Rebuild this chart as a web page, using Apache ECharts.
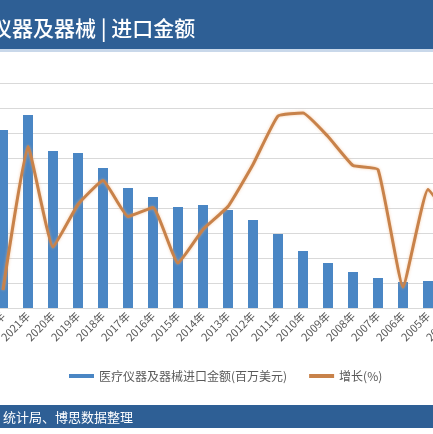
<!DOCTYPE html>
<html>
<head>
<meta charset="utf-8">
<script src="https://cdn.jsdelivr.net/npm/echarts@6/dist/echarts.min.js"></script>
<style>
  html, body { margin: 0; padding: 0; overflow: hidden; background: #fff; }
  #main { width: 433px; height: 434px; }
</style>
</head>
<body>
<div id="main"></div>
<script>
// years run newest -> oldest, like the source chart
const years = ["2022年", "2021年", "2020年", "2019年", "2018年", "2017年", "2016年", "2015年", "2014年",
  "2013年", "2012年", "2011年", "2010年", "2009年", "2008年", "2007年", "2006年", "2005年", "2004年"];
// import value, million USD
const importValue = [28480, 30880, 25120, 24800, 22400, 19200, 17760, 16160, 16480,
  15680, 14080, 11840, 9120, 7200, 5760, 4800, 4160, 4320, 3600];
// growth, %
const growth = [-6.4, 22.3, 2.2, 10.7, 15.5, 8.3, 10.1, -1.0, 5.7,
  10.3, 18.7, 28.4, 29.0, 24.3, 18.5, 17.7, -5.8, 13.7, 7.0];

const barName = "医疗仪器及器械进口金额(百万美元)";
const lineName = "增长(%)";
const titleText = "医疗仪器及器械 | 进口金额";
const footText = "统计局、博思数据整理";

const chart = echarts.init(document.getElementById("main"));

const option = {
  animation: false,
  textStyle: { fontFamily: "'Noto Sans CJK SC', 'Noto Sans', sans-serif" },
  graphic: [
    {
      type: "rect",
      shape: { x: 0, y: 0, width: 433, height: 49 },
      style: { fill: "#2e5f95" },
    },
    {
      type: "rect",
      shape: { x: 0, y: 49, width: 433, height: 3 },
      style: { fill: "#c9d8ea" },
    },
    {
      type: "text",
      x: -51,
      y: 28,
      style: {
        text: titleText,
        fill: "#fff",
        font: "500 21px 'Noto Sans CJK SC'",
        textVerticalAlign: "middle",
      },
    },
    {
      type: "rect",
      shape: { x: 0, y: 405, width: 433, height: 23 },
      style: { fill: "#2e5f95" },
    },
    {
      type: "text",
      x: 3,
      y: 417,
      style: {
        text: footText,
        fill: "#fff",
        font: "13px 'Noto Sans CJK SC'",
        textVerticalAlign: "middle",
      },
    },
  ],
  legend: {
    left: 64,
    top: 365,
    itemWidth: 25,
    itemHeight: 4,
    itemGap: 22,
    textStyle: { fontSize: 12, color: "#595959" },
    data: [
      { name: barName, icon: "rect" },
      { name: lineName, icon: "rect" },
    ],
  },
  grid: {
    left: -9.5,
    right: -32.5,
    top: 83,
    bottom: 126,
    outerBoundsMode: "none",
  },
  xAxis: {
    type: "category",
    data: years,
    axisLine: { lineStyle: { color: "#d9d9d9" } },
    axisTick: { length: 4, lineStyle: { color: "#d9d9d9" } },
    axisLabel: {
      rotate: 45,
      fontSize: 11,
      color: "#595959",
      interval: 0,
      margin: 6,
    },
  },
  yAxis: [
    {
      type: "value",
      min: 0,
      max: 36000,
      interval: 4000,
      axisLabel: { show: false },
      axisLine: { show: false },
      axisTick: { show: false },
      splitLine: { lineStyle: { color: "#d9d9d9" } },
    },
    {
      type: "value",
      min: -10,
      max: 35,
      interval: 5,
      axisLabel: { show: false },
      axisLine: { show: false },
      axisTick: { show: false },
      splitLine: { show: false },
    },
  ],
  series: [
    {
      name: barName,
      type: "bar",
      barWidth: 10,
      itemStyle: { color: "#4a86c4" },
      data: importValue,
    },
    {
      name: lineName,
      type: "line",
      yAxisIndex: 1,
      smooth: 0.12,
      showSymbol: false,
      itemStyle: { color: "#c8824a" },
      lineStyle: {
        color: "#c8824a",
        width: 3,
        shadowBlur: 3,
        shadowColor: "rgba(240,170,110,0.6)",
      },
      data: growth,
    },
  ],
};

chart.setOption(option);
</script>
</body>
</html>
